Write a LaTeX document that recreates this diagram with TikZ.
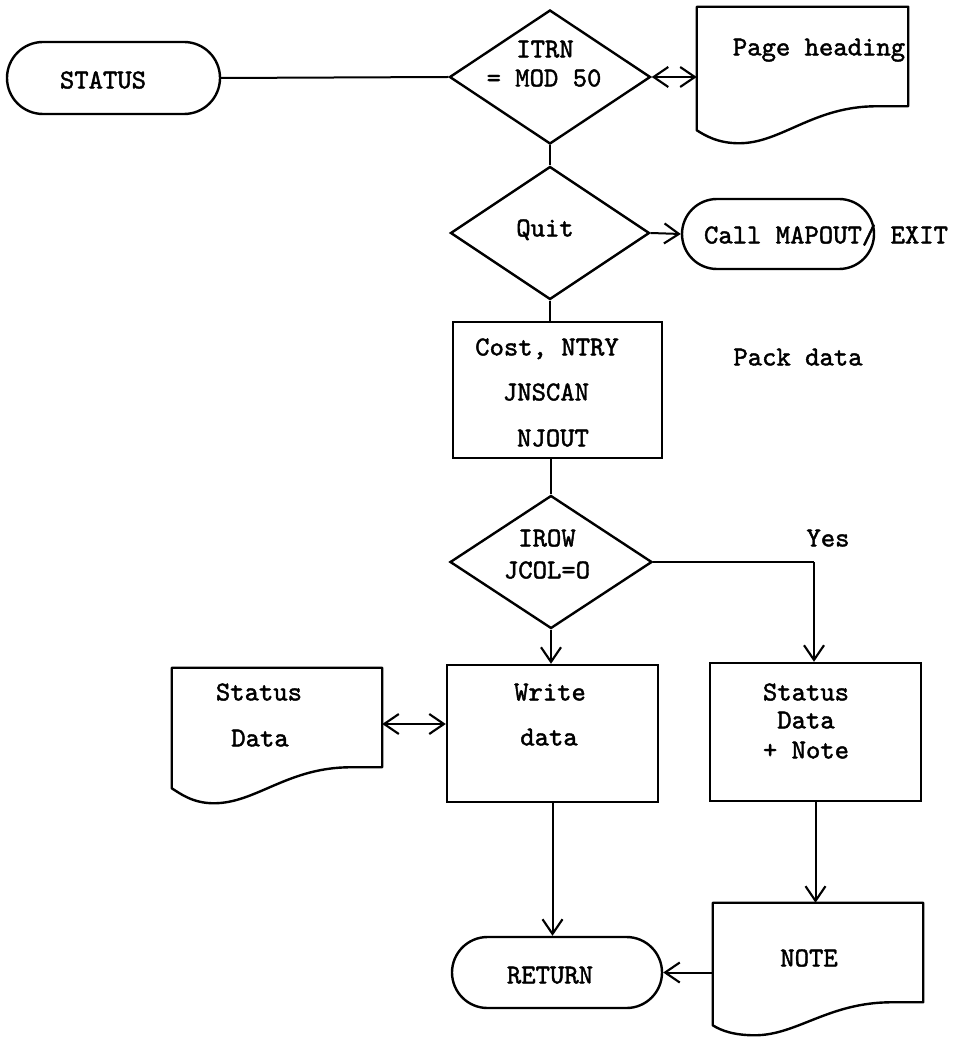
\documentclass[tikz,border=0pt]{standalone}
\usepackage{fontspec}
\newfontfamily\typewriter[FakeBold=1.6]{lmmono10-regular.otf}
\usetikzlibrary{shapes.geometric,shapes.misc,arrows.meta,calc}

% document symbol: rectangle with a wavy lower edge
% #1 node, #2 drop of the left end (px), #3 depth of the trough (px)
\newcommand\docshape[3]{%
  \draw[line width=1.8pt,line join=round]
    let \p1=(#1.south west), \p2=(#1.north east), \n1={\x2-\x1} in
    (\x1,\y2) -- (\x2,\y2) -- (\x2,\y1) -- ({\x1+0.85*\n1},\y1)
    .. controls ({\x1+0.55*\n1},\y1) and ({\x1+0.4*\n1},{\y1-#3*0.75pt}) ..
    ({\x1+0.2*\n1},{\y1-#3*0.75pt})
    .. controls ({\x1+0.1*\n1},{\y1-#3*0.75pt}) and ({\x1+0.04*\n1},{\y1-#2*0.75pt-4pt}) ..
    (\x1,{\y1-#2*0.75pt}) -- cycle;}

\begin{document}
\begin{tikzpicture}[x=0.75pt,y=-0.75pt,
  wh/.style 2 args={minimum width=#1*0.75pt,minimum height=#2*0.75pt},
  outline/.style={draw=black,line width=1.8pt},
  terminal/.style={rounded rectangle,outline,inner sep=0pt},
  decision/.style={diamond,outline,inner sep=0pt},
  process/.style={rectangle,outline,inner sep=0pt},
  docframe/.style={rectangle,draw=none,inner sep=0pt},
  lbl/.style={font=\typewriter\fontsize{20.5}{24}\selectfont,inner sep=0pt,
              text height=12.6pt,text depth=0pt},
  link/.style={draw=black,line width=1.5pt},
  tip/.tip={Straight Barb[length=11pt,width=15pt,line width=1.6pt]},
  flow/.style={link,-tip},
  both/.style={link,tip-tip},
]
\fill[white] (0,0) rectangle (959,1037);
\useasboundingbox (0,0) rectangle (959,1037);

% ---------- shapes ----------
\node[terminal,wh={213}{72}] (status) at (113.5,78) {};
\node[decision,wh={201}{134}] (itrn) at (550,77) {};
\node[docframe,wh={211}{99}] (page) at (802.5,56.5) {};
\docshape{page}{24}{37}
\node[decision,wh={199}{133}] (quit) at (550,233) {};
\node[terminal,wh={192}{70}] (call) at (778,234) {};
\node[process,wh={209}{136}] (cost) at (557.5,390) {};
\node[decision,wh={202}{133}] (irow) at (551,562) {};
\node[process,wh={211}{137}] (write) at (552.5,733.5) {};
\node[docframe,wh={210}{99}] (stdoc) at (277,717.5) {};
\docshape{stdoc}{21}{36}
\node[process,wh={211}{138}] (notebox) at (815.5,732) {};
\node[terminal,wh={210}{71}] (ret) at (557,972.5) {};
\node[docframe,wh={210}{99}] (notedoc) at (818,952.5) {};
\docshape{notedoc}{23}{33}

% ---------- texts ----------
\node[lbl] (tStatus) at (103,80) {STATUS};
\node[lbl] (tItrn) at (545,49) {ITRN};
\node[lbl] (tMod) at (544,78) {= MOD 50};
\node[lbl] (tPage) at (819,47) {Page heading};
\node[lbl] (tQuit) at (545,228) {Quit};
\node[lbl] (tCall) at (826,235) {Call MAPOUT/ EXIT};
\node[lbl] (tCost) at (547,347) {Cost, NTRY};
\node[lbl] (tScan) at (546,392) {JNSCAN};
\node[lbl] (tOut) at (553,438) {NJOUT};
\node[lbl] (tPack) at (798,357) {Pack data};
\node[lbl] (tIrow) at (547,538) {IROW};
\node[lbl] (tJcol) at (547,570) {JCOL=O};
\node[lbl] (tYes) at (828,538) {Yes};
\node[lbl] (tWrite) at (550,692) {Write};
\node[lbl] (tData) at (549,737) {data};
\node[lbl] (tSt1) at (259,692) {Status};
\node[lbl] (tSt2) at (260,738) {Data};
\node[lbl] (tNb1) at (806,692) {Status};
\node[lbl] (tNb2) at (806,720) {Data};
\node[lbl] (tNb3) at (806,750) {+ Note};
\node[lbl] (tRet) at (550,975) {RETURN};
\node[lbl] (tNote) at (809,958) {NOTE};

% ---------- connectors ----------
\draw[link] (status.east) -- (itrn.west);
\draw[both] (itrn.east) -- (itrn.east -| page.west);
\draw[link] (itrn.south) -- (quit.north);
\draw[flow] (quit.east) -- (call.west);
\draw[link] (quit.south) -- (quit.south |- cost.north);
\draw[link] (irow.north |- cost.south) -- (irow.north);
\coordinate (yesc) at (814,562);
\draw[link] (irow.east) -- (yesc);
\draw[flow] (yesc) -- (yesc |- notebox.north);
\draw[flow] (irow.south) -- (irow.south |- write.north);
\coordinate (stdocR) at ($(stdoc.east)+(0,6.5)$);
\draw[both] (stdocR) -- (stdocR -| write.west);
\draw[flow] (write.south) -- (write.south |- ret.north);
\draw[flow] (notebox.south) -- (notebox.south |- notedoc.north);
\draw[flow] (ret.east -| notedoc.west) -- (ret.east);
\end{tikzpicture}
\end{document}
